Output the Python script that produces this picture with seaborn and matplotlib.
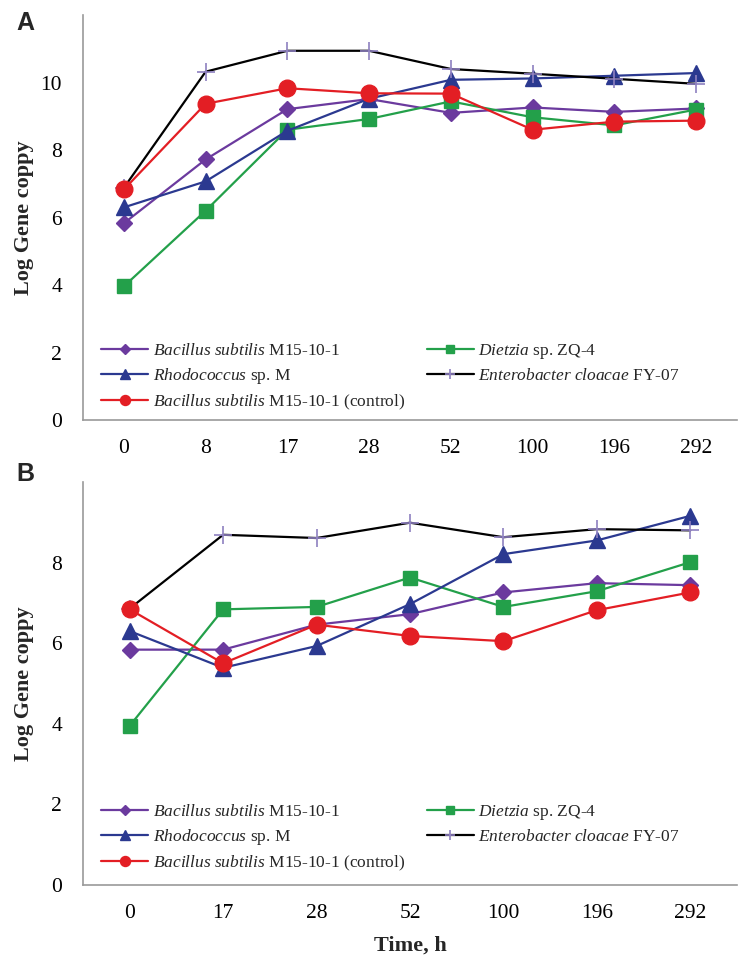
import matplotlib
matplotlib.use("Agg")
import matplotlib.pyplot as plt
import seaborn as sns
import numpy as np
import pandas as pd

# ---------------- data ----------------
times_a = ["0", "8", "17", "28", "52", "100", "196", "292"]
times_b = ["0", "17", "28", "52", "100", "196", "292"]

bacillus_a = [5.83, 7.72, 9.21, 9.51, 9.10, 9.26, 9.13, 9.23]
dietzia_a = [3.96, 6.20, 8.60, 8.92, 9.44, 8.97, 8.73, 9.20]
rhodo_a = [6.30, 7.07, 8.57, 9.52, 10.08, 10.12, 10.20, 10.28]
entero_a = [6.88, 10.32, 10.94, 10.94, 10.40, 10.26, 10.11, 9.96]
control_a = [6.83, 9.37, 9.83, 9.68, 9.67, 8.60, 8.84, 8.87]

bacillus_b = [5.84, 5.84, 6.46, 6.72, 7.26, 7.49, 7.44]
dietzia_b = [3.95, 6.84, 6.90, 7.63, 6.90, 7.29, 8.01]
rhodo_b = [6.30, 5.39, 5.93, 6.97, 8.21, 8.55, 9.16]
entero_b = [6.86, 8.69, 8.61, 8.99, 8.63, 8.83, 8.80]
control_b = [6.84, 5.50, 6.46, 6.18, 6.05, 6.82, 7.26]

labels = [
    r"$\mathit{Bacillus\ subtilis}$ M15-10-1",
    r"$\mathit{Dietzia}$ sp. ZQ-4",
    r"$\mathit{Rhodococcus}$ sp. M",
    r"$\mathit{Enterobacter\ cloacae}$ FY-07",
    r"$\mathit{Bacillus\ subtilis}$ M15-10-1 (control)",
]

# ---------------- style ----------------
sns.set_theme(style="white")
plt.rcParams["font.family"] = ["Liberation Serif", "DejaVu Serif"]
plt.rcParams["mathtext.fontset"] = "custom"
plt.rcParams["mathtext.rm"] = "Liberation Serif"
plt.rcParams["mathtext.it"] = "Liberation Serif:italic"
plt.rcParams["mathtext.bf"] = "Liberation Serif:bold"

styles = [
    dict(color="#6B3A9E", marker="D", markersize=8, markerfacecolor="#6B3A9E", markeredgecolor="#6B3A9E"),
    dict(color="#23A04A", marker="s", markersize=10.5, markerfacecolor="#23A04A", markeredgecolor="#23A04A"),
    dict(color="#2B3990", marker="^", markersize=11.5, markerfacecolor="#2B3990", markeredgecolor="#2B3990"),
    dict(color="#000000", marker="+", markersize=13, markerfacecolor="#8E80C0", markeredgecolor="#8E80C0", markeredgewidth=1.2),
    dict(color="#E31E24", marker="o", markersize=12, markerfacecolor="#E31E24", markeredgecolor="#E31E24"),
]

GRAY = "#9A9A9A"

fig = plt.figure(figsize=(7.39, 9.59), dpi=100)
axA = fig.add_axes([83 / 739, 1 - 420 / 959, 654 / 739, 405 / 959])
axB = fig.add_axes([83 / 739, 1 - 885 / 959, 654 / 739, 403 / 959])


def draw(ax, times, series, ymax, yticks, legend_y):
    pos = np.arange(len(times))
    for vals, lab, st in zip(series, labels, styles):
        df = pd.DataFrame({"pos": pos, "val": vals})
        sns.lineplot(data=df, x="pos", y="val", ax=ax, label=lab, linewidth=1.6,
                     color=st["color"], marker=st["marker"], markersize=st["markersize"],
                     markerfacecolor=st["markerfacecolor"], markeredgecolor=st["markeredgecolor"],
                     markeredgewidth=st.get("markeredgewidth", 1.0), legend=False)
    ax.set_xlim(-0.5, len(times) - 0.5)
    ax.set_ylim(0, ymax)
    ax.set_xticks(pos)
    ax.set_xticklabels(times)
    ax.set_xticks(np.arange(len(times) + 1) - 0.5, minor=True)
    ax.set_yticks(yticks)
    ax.set_yticklabels([str(t) for t in yticks])
    ax.tick_params(axis="x", which="major", length=0, pad=14, labelsize=15.5, colors="black")
    ax.tick_params(axis="x", which="minor", length=6, width=1, color=GRAY, direction="out")
    ax.tick_params(axis="y", which="major", length=6, width=1, color=GRAY, direction="out",
                   pad=9, labelsize=15.5, labelcolor="black")
    for s in ["top", "right"]:
        ax.spines[s].set_visible(False)
    for s in ["left", "bottom"]:
        ax.spines[s].set_color(GRAY)
        ax.spines[s].set_linewidth(1.2)
    ax.set_ylabel("Log Gene coppy", fontsize=16, fontweight="bold", labelpad=0)
    ax.yaxis.set_label_coords(-0.075, 0.5)
    ax.set_xlabel("")
    ax.grid(False)
    lines = ax.get_lines()
    order = [0, 2, 4, 1, 3]
    leg = ax.legend([lines[i] for i in order], [labels[i] for i in order], ncol=2,
                    loc="lower left", bbox_to_anchor=(0.028, legend_y), frameon=False,
                    fontsize=12.5, borderpad=0, borderaxespad=0, handlelength=2.7,
                    handletextpad=0.25, columnspacing=1.25, labelspacing=0.4)
    for h in leg.legend_handles:
        h.set_markersize(h.get_markersize() * 0.6)
    return ax


draw(axA, times_a, [bacillus_a, dietzia_a, rhodo_a, entero_a, control_a], 12, [0, 2, 4, 6, 8, 10], 0.02)
draw(axB, times_b, [bacillus_b, dietzia_b, rhodo_b, entero_b, control_b], 10, [0, 2, 4, 6, 8], 0.03)

axB.set_xlabel("Time, h", fontsize=16, fontweight="bold", labelpad=9)

fig.text(16 / 739, 1 - 23 / 959, "A", fontsize=18, fontweight="bold", family="Liberation Sans", va="center", ha="left")
fig.text(16 / 739, 1 - 474 / 959, "B", fontsize=18, fontweight="bold", family="Liberation Sans", va="center", ha="left")

fig.savefig("out.png", dpi=100)
